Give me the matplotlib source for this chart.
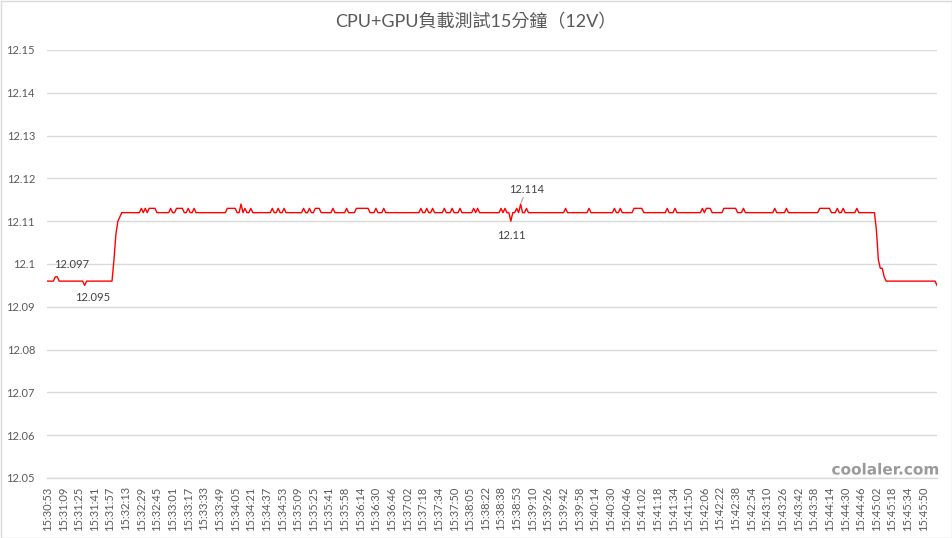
import numpy as np
import matplotlib
matplotlib.use("Agg")
import matplotlib.pyplot as plt
from matplotlib.patches import Rectangle
import matplotlib.patheffects as pe

# ---------------- data ----------------
TITLE = "CPU+GPU負載測試15分鐘（12V）"

# one label every 8 samples (category axis)
TICK_LABELS = [
    "15:30:53", "15:31:09", "15:31:25", "15:31:41", "15:31:57", "15:32:13", "15:32:29", "15:32:45",
    "15:33:01", "15:33:17", "15:33:33", "15:33:49", "15:34:05", "15:34:21", "15:34:37", "15:34:53",
    "15:35:09", "15:35:25", "15:35:41", "15:35:58", "15:36:14", "15:36:30", "15:36:46", "15:37:02",
    "15:37:18", "15:37:34", "15:37:50", "15:38:05", "15:38:22", "15:38:38", "15:38:53", "15:39:10",
    "15:39:26", "15:39:42", "15:39:58", "15:40:14", "15:40:30", "15:40:46", "15:41:02", "15:41:18",
    "15:41:34", "15:41:50", "15:42:06", "15:42:22", "15:42:38", "15:42:54", "15:43:10", "15:43:26",
    "15:43:42", "15:43:58", "15:44:14", "15:44:30", "15:44:46", "15:45:02", "15:45:18", "15:45:34",
    "15:45:50",
]
TICK_STEP = 8

# 12V readings, stored as (value, number of consecutive samples)
VOLTAGE_RUNS = [
    (12.096, 4), (12.097, 2), (12.096, 13), (12.095, 1), (12.096, 14),
    (12.101, 1), (12.107, 1), (12.110, 1), (12.111, 1),
    (12.112, 10), (12.113, 1), (12.112, 1), (12.113, 1), (12.112, 1), (12.113, 4),
    (12.112, 7), (12.113, 1), (12.112, 2), (12.113, 4), (12.112, 2), (12.113, 1),
    (12.112, 2), (12.113, 1), (12.112, 16), (12.113, 5), (12.112, 2), (12.114, 1),
    (12.112, 1), (12.113, 1), (12.112, 2), (12.113, 1), (12.112, 10), (12.113, 1),
    (12.112, 2), (12.113, 1), (12.112, 2), (12.113, 1), (12.112, 9), (12.113, 1),
    (12.112, 2), (12.113, 1), (12.112, 2), (12.113, 3), (12.112, 6), (12.113, 1),
    (12.112, 6), (12.113, 1), (12.112, 4), (12.113, 7), (12.112, 3), (12.113, 1),
    (12.112, 3), (12.113, 1), (12.112, 18), (12.113, 1), (12.112, 2), (12.113, 1),
    (12.112, 2), (12.113, 1), (12.112, 5), (12.113, 1), (12.112, 3), (12.113, 1),
    (12.112, 3), (12.113, 1), (12.112, 6), (12.113, 1), (12.112, 1), (12.113, 1),
    (12.112, 11), (12.113, 1), (12.112, 1), (12.113, 1), (12.112, 2), (12.110, 1),
    (12.112, 2), (12.113, 1), (12.112, 1), (12.114, 1), (12.112, 2), (12.113, 1),
    (12.112, 19), (12.113, 1), (12.112, 11), (12.113, 1), (12.112, 12), (12.113, 1),
    (12.112, 2), (12.113, 1), (12.112, 6), (12.113, 5), (12.112, 12), (12.113, 1),
    (12.112, 3), (12.113, 1), (12.112, 13), (12.113, 1), (12.112, 1), (12.113, 3),
    (12.112, 6), (12.113, 7), (12.112, 3), (12.113, 1), (12.112, 15), (12.113, 1),
    (12.112, 5), (12.113, 1), (12.112, 16), (12.113, 6), (12.112, 3), (12.113, 1),
    (12.112, 2), (12.113, 1), (12.112, 6), (12.113, 1), (12.112, 9),
    (12.108, 1), (12.101, 1), (12.099, 2), (12.097, 1), (12.096, 26), (12.095, 1),
]

# samples that carry a data label, with label offset (pixels)
LABELLED_SAMPLES = [4, 19, 237, 242]
LABEL_OFFSETS = [(16, 12), (8, -12), (0, -14), (6, 15)]

Y_TICKS = [12.05, 12.06, 12.07, 12.08, 12.09, 12.10, 12.11, 12.12, 12.13, 12.14, 12.15]

# ---------------- build series ----------------
values = np.concatenate([np.full(n, v) for v, n in VOLTAGE_RUNS])
x = np.arange(len(values))

TXT = "#595959"
GRID = "#d9d9d9"

W, H, DPI = 953, 538, 100
fig = plt.figure(figsize=(W / DPI, H / DPI), dpi=DPI)
fig.patch.set_facecolor("white")

left, right, top, bottom = 47.5, 937, 50, 478
ax = fig.add_axes([left / W, 1 - bottom / H, (right - left) / W, (bottom - top) / H])

ax.plot(x, values, color="#ff0000", lw=1.0, solid_joinstyle="round", zorder=3)

ax.set_xlim(0, len(values) - 1)
ax.set_ylim(12.05, 12.15)
ax.set_yticks(Y_TICKS)
ax.set_yticklabels([f"{v:g}" for v in Y_TICKS], fontsize=8, color=TXT, family="Lato")
ticks = np.arange(0, len(values), TICK_STEP)[:len(TICK_LABELS)]
ax.set_xticks(ticks)
ax.set_xticklabels(TICK_LABELS[:len(ticks)], rotation=90, fontsize=8, color=TXT, family="Lato")
ax.tick_params(axis="y", length=0, pad=9)
ax.tick_params(axis="x", length=0, pad=6)
for lab in ax.get_yticklabels():
    lab.set_horizontalalignment("right")

ax.grid(axis="y", color=GRID, lw=1.0)
ax.set_axisbelow(True)
for s in ["top", "right", "left"]:
    ax.spines[s].set_visible(False)
ax.spines["bottom"].set_color(GRID)
ax.spines["bottom"].set_linewidth(1.0)

# data labels
for i, (dx, dy) in zip(LABELLED_SAMPLES, LABEL_OFFSETS):
    v = values[i]
    kw = {}
    if i == 242:
        kw = dict(arrowprops=dict(arrowstyle="-", color="#a6a6a6", lw=0.8, shrinkA=6, shrinkB=1))
    ax.annotate(f"{v:g}", (i, v), xytext=(dx, dy), textcoords="offset pixels",
                ha="center", va="center", fontsize=8, color="#404040", family="Lato",
                zorder=4, **kw)

# title
fig.text(476 / W, 1 - 22 / H, TITLE, ha="center", va="center", fontsize=13,
         color=TXT, family=["Lato", "Noto Sans CJK TC"])

# watermark
fig.text(885 / W, 1 - 470 / H, "coolaler.com", ha="center", va="center", fontsize=11,
         color="#9a9a9a", family="DejaVu Sans", fontweight="bold",
         path_effects=[pe.withStroke(linewidth=2, foreground="white")])

# chart border
fig.add_artist(Rectangle((0.5 / W, 0.5 / H), (W - 1) / W, (H - 1) / H, transform=fig.transFigure,
                         fill=False, edgecolor=GRID, lw=1.0))

fig.savefig("out.png", dpi=DPI)
